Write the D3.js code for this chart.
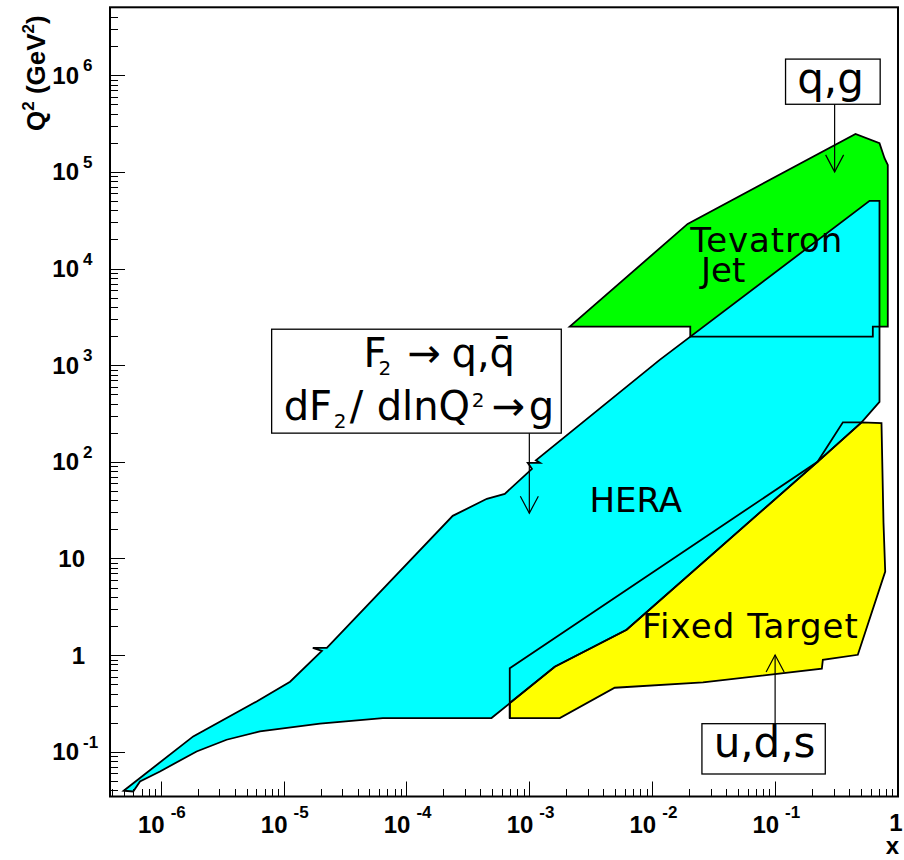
<!DOCTYPE html>
<html><head><meta charset="utf-8">
<script src="https://cdn.jsdelivr.net/npm/d3@7"></script>
<style>body{margin:0;background:#fff} svg{display:block}</style>
</head><body>
<svg id="c" width="904" height="860"></svg>
<script>
// ---------- data (x, Q^2 in GeV^2) ----------
const heraRegion = [
  [5.0e-7,0.0395],[1.84e-6,0.144],[6.04e-6,0.331],[1.13e-5,0.53],[2.05e-5,1.108],[1.73e-5,1.19],[2.25e-5,1.19],
  [2.38e-4,27.6],[4.51e-4,41.4],[6.31e-4,46.6],[1.05e-3,84.6],[9.71e-4,97.6],[1.22e-3,97.6],[1.13e-3,103.5],
  [0.0115,1135],[0.587,50100],[0.707,50100],[0.707,417],[0.505,256],[0.2215,100],[6.19e-3,1.83],[1.61e-3,0.757],
  [4.92e-4,0.223],[6.43e-5,0.223],[1.98e-5,0.195],[6.42e-6,0.162],[3.44e-6,0.133],[1.96e-6,0.1006],[9.87e-7,0.0625],
  [6.79e-7,0.0492],[5.98e-7,0.0388]
];
const fixedTargetRegion = [
  [6.93e-4,0.223],[6.93e-4,0.319],[1.61e-3,0.757],[6.19e-3,1.83],[0.2215,100],[0.505,256],[0.734,251],
  [0.762,23.4],[0.787,7.32],[0.471,1.007],[0.2446,0.894],[0.240,0.722],[0.0259,0.521],[4.95e-3,0.459],[1.77e-3,0.223]
];
const extraOutline = [[6.93e-4,0.223],[6.93e-4,0.730],[0.2215,100],[0.356,256],[0.505,256]];
const tevatronRegion = [
  [2.13e-3,2506],[0.01942,28950],[0.451,247000],[0.707,197800],[0.777,138400],[0.826,118000],[0.826,2506],
  [0.624,2506],[0.624,1977],[0.0204,1977],[0.0204,2506]
];

const xTickValues = [1e-6,1e-5,1e-4,1e-3,1e-2,1e-1,1];
const xTickLabels = [["10","-6"],["10","-5"],["10","-4"],["10","-3"],["10","-2"],["10","-1"],["1",""]];
const yTickValues = [1e-1,1,10,100,1e3,1e4,1e5,1e6];
const yTickLabels = [["10","-1"],["1",""],["10",""],["10","2"],["10","3"],["10","4"],["10","5"],["10","6"]];

const xDomain = [3.87e-7, 1];
const yDomain = [0.0344, 5.05e6];

// annotation boxes: [x0,x1,y0,y1] in data coords
const boxF2 = [8.0e-6, 1.82e-3, 198, 2356];
const boxQG = [0.1216, 0.716, 5.01e5, 1.47e6];
const boxUDS = [0.02538, 0.256, 0.0588, 0.195];
// arrows: [x, yFrom, yTo]
const arrows = [[1e-3,198,29.4],[0.305,5.01e5,1e5],[0.1,0.195,1.0]];

// ---------- drawing ----------
const svg = d3.select("#c");
const L=110, R=898, T=7.3, B=796.5;
const x = d3.scaleLog().domain(xDomain).range([L,R]);
const y = d3.scaleLog().domain(yDomain).range([B,T]);

svg.append("defs").append("clipPath").attr("id","clip")
  .append("rect").attr("x",L).attr("y",T).attr("width",R-L).attr("height",B-T);
const plot = svg.append("g").attr("clip-path","url(#clip)");

const line = d3.line().x(d=>x(d[0])).y(d=>y(d[1]));
const poly = d => line(d) + "Z";

plot.append("path").attr("d",poly(tevatronRegion)).attr("fill","#00ff00").attr("stroke","none");
plot.append("path").attr("d",poly(heraRegion)).attr("fill","#00ffff").attr("stroke","none");
plot.append("path").attr("d",poly(fixedTargetRegion)).attr("fill","#ffff00").attr("stroke","none");
const sw = 1.8;
plot.append("path").attr("d",poly(heraRegion)).attr("fill","none").attr("stroke","#000").attr("stroke-width",sw);
plot.append("path").attr("d",poly(tevatronRegion)).attr("fill","none").attr("stroke","#000").attr("stroke-width",sw);
plot.append("path").attr("d",poly(fixedTargetRegion)).attr("fill","none").attr("stroke","#000").attr("stroke-width",sw);
plot.append("path").attr("d",line(extraOutline)).attr("fill","none").attr("stroke","#000").attr("stroke-width",sw);

// ticks
const tickG = svg.append("g").attr("stroke","#000").attr("stroke-width",1);
function minorVals(dom){
  const out=[]; const e0=Math.floor(Math.log10(dom[0])), e1=Math.ceil(Math.log10(dom[1]));
  for(let e=e0;e<=e1;e++) for(let k=1;k<=9;k++){const v=k*Math.pow(10,e); if(v>=dom[0]*1.0001 && v<=dom[1]*1.0001) out.push([v,k===1]);}
  return out;
}
minorVals(xDomain).forEach(([v,maj])=>{
  const px = Math.round(x(v))+0.5;
  tickG.append("line").attr("x1",px).attr("x2",px).attr("y1",B).attr("y2",B-(maj?15:7.5));
});
minorVals(yDomain).forEach(([v,maj])=>{
  const py = Math.round(y(v))+0.5;
  if(py < T+2) return;
  tickG.append("line").attr("y1",py).attr("y2",py).attr("x1",L).attr("x2",L+(maj?15:8));
});

// frame
svg.append("rect").attr("x",L).attr("y",T).attr("width",R-L).attr("height",B-T)
  .attr("fill","none").attr("stroke","#000").attr("stroke-width",2);

// tick labels
const lblFont = "'Liberation Sans', Arial, sans-serif";
function lbl(px, py, txt, size, anchor){
  return svg.append("text").attr("x",px).attr("y",py).attr("text-anchor",anchor)
    .attr("font-family",lblFont).attr("font-weight","bold").attr("font-size",size).text(txt);
}
xTickValues.forEach((v,i)=>{
  const [b,e]=xTickLabels[i];
  if(e){
    lbl(x(v)+4, 833, b, 24, "end");
    lbl(x(v)+10, 818, e, 17, "start");
  } else {
    lbl(x(v)-2, 831, b, 24, "middle");
  }
});
yTickValues.forEach((v,i)=>{
  const [b,e]=yTickLabels[i];
  if(e){
    lbl(79, y(v)+8.5, b, 24, "end");
    lbl(83, y(v)-4, e, 17, "start");
  } else {
    lbl(85, y(v)+8.5, b, 24, "end");
  }
});

// axis titles
const yt = svg.append("text").attr("transform","translate(45,131) rotate(-90)")
  .attr("font-family",lblFont).attr("font-weight","bold").attr("font-size",26);
yt.append("tspan").text("Q");
yt.append("tspan").attr("dy",-11).attr("font-size",17).text("2");
yt.append("tspan").attr("dy",11).text(" (GeV");
yt.append("tspan").attr("dy",-11).attr("font-size",17).text("2");
yt.append("tspan").attr("dy",11).text(")");
svg.append("text").attr("x",899).attr("y",854).attr("text-anchor","end")
  .attr("font-family",lblFont).attr("font-weight","bold").attr("font-size",24).text("x");

// annotation boxes and arrows
const annFont = "'DejaVu Sans', sans-serif";
[boxF2,boxQG,boxUDS].forEach(b=>{
  svg.append("rect").attr("x",x(b[0])).attr("y",y(b[3])).attr("width",x(b[1])-x(b[0])).attr("height",y(b[2])-y(b[3]))
    .attr("fill","#fff").attr("stroke","#000").attr("stroke-width",1.3);
});
arrows.forEach(([xv,y0,y1])=>{
  const px=x(xv), a=y(y0), b=y(y1), dir = b>a?1:-1;
  const g = svg.append("g").attr("stroke","#000").attr("stroke-width",1.2).attr("fill","none");
  g.append("line").attr("x1",px).attr("x2",px).attr("y1",a).attr("y2",b);
  g.append("path").attr("d",`M${px-9},${b-dir*17}L${px},${b}L${px+9},${b-dir*17}`);
});

// region labels
function label(txt, xv, yv, size, anchor, len){
  const t = svg.append("text").attr("x",x(xv)).attr("y",y(yv)).attr("font-family",annFont)
    .attr("font-size",size).attr("text-anchor",anchor||"start").text(txt);
  if(len) t.attr("textLength",len).attr("lengthAdjust","spacing");
  return t;
}
label("Tevatron", 0.0208, 14960, 34, "start", 152).attr("x", x(0.0208)-1);
label("Jet", 0.0259, 7200, 34).attr("x", x(0.0259)-2);
label("HERA", 3.2e-3, 29.9, 34).attr("x", x(3.2e-3)-2);
label("Fixed Target", 8.4e-3, 1.5, 34, "start", 216).attr("x", x(8.4e-3)-1);
label("q,g", 0.2825, 6.5e5, 42, "middle");
label("u,d,s", 0.0821, 0.088, 42, "middle");

// F2 box text
const l1x = x(4.73e-5)-3, l1y = y(967);
const l1 = svg.append("text").attr("y",l1y).attr("font-family",annFont).attr("font-size",40);
l1.append("tspan").attr("x",l1x).text("F");
l1.append("tspan").attr("x",l1x+15).attr("dy",8).attr("font-size",20).text("2");
l1.append("tspan").attr("x",l1x+44).attr("dy",-8).text("\u2192");
l1.append("tspan").attr("x",l1x+88).text("q,q\u0304");
const l2x = x(1.06e-5)-3, l2y = y(272);
const l2 = svg.append("text").attr("y",l2y).attr("font-family",annFont).attr("font-size",40);
l2.append("tspan").attr("x",l2x).text("dF");
l2.append("tspan").attr("x",l2x+50).attr("dy",8).attr("font-size",20).text("2");
l2.append("tspan").attr("x",l2x+66).attr("dy",-8).text("/");
l2.append("tspan").attr("x",l2x+93).text("dlnQ");
l2.append("tspan").attr("x",l2x+188).attr("dy",-13).attr("font-size",20).text("2");
l2.append("tspan").attr("x",l2x+208).attr("dy",13).text("\u2192");
l2.append("tspan").attr("x",l2x+245).text("g");
</script>
</body></html>
